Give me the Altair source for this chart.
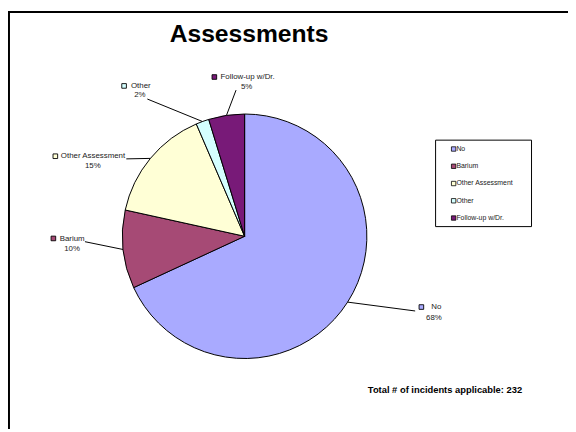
import altair as alt
import pandas as pd
import numpy as np

# ---- data ----
categories = ["No", "Barium", "Other Assessment", "Other", "Follow-up w/Dr."]
counts = [158, 24, 35, 4, 11]
colors = ["#A9AAFF", "#A64A75", "#FFFFD6", "#D4FFFF", "#781A78"]
title_text = "Assessments"
note_text = "Total # of incidents applicable: 232"

# ---- layout ----
W, H = 568, 424
CX, CY, R = 240, 228.5, 124
FONT = "Liberation Sans"

# per-label placement: leader end offset from slice edge, then name / pct / square offsets from leader end
LAYOUT = {
    "No":               dict(ldx=68.5, ldy=9.0,   ndx=21.5, ndy=-4.3,  pdx=19.0, pdy=7.0,  sdx=6.3,   sdy=-4.0),
    "Barium":           dict(ldx=-38.7, ldy=-7.9, ndx=-13.0, ndy=-3.0, pdx=-13.0, pdy=7.0, sdx=-32.0, sdy=-3.3),
    "Other Assessment": dict(ldx=-24.4, ldy=0.5,  ndx=-33.8, ndy=-3.0, pdx=-34.0, pdy=7.0, sdx=-72.0, sdy=-2.7),
    "Other":            dict(ldx=-55.9, ldy=-22.8, ndx=-6.6, ndy=-13.3, pdx=-7.6, pdy=-4.0, sdx=-23.6, sdy=-13.3),
    "Follow-up w/Dr.":  dict(ldx=9.7, ldy=-25.6,  ndx=11.7, ndy=-13.3, pdx=10.7, pdy=-3.3, sdx=-22.0, sdy=-13.3),
}

total = sum(counts)
frac = np.array(counts, dtype=float) / total
mid = np.cumsum(frac) - frac / 2
ang = mid * 2 * np.pi

df = pd.DataFrame({
    "category": categories,
    "count": counts,
    "idx": list(range(len(categories))),
})
df["pct_label"] = [f"{round(f * 100)}%" for f in frac]
df["ex"] = CX + R * np.sin(ang)
df["ey"] = CY - R * np.cos(ang)
df["lx"] = df["ex"] + [LAYOUT[c]["ldx"] for c in categories]
df["ly"] = df["ey"] + [LAYOUT[c]["ldy"] for c in categories]
df["nx"] = df["lx"] + [LAYOUT[c]["ndx"] for c in categories]
df["ny"] = df["ly"] + [LAYOUT[c]["ndy"] for c in categories]
df["px"] = df["lx"] + [LAYOUT[c]["pdx"] for c in categories]
df["py"] = df["ly"] + [LAYOUT[c]["pdy"] for c in categories]
df["sx"] = df["lx"] + [LAYOUT[c]["sdx"] for c in categories]
df["sy"] = df["ly"] + [LAYOUT[c]["sdy"] for c in categories]
df["legy"] = 140 + df["idx"] * 17.5

xs = alt.Scale(domain=[0, W], range=[0, W], nice=False, zero=False)
ys = alt.Scale(domain=[0, H], range=[0, H], nice=False, zero=False)
cscale = alt.Scale(domain=categories, range=colors)

base = alt.Chart(df)
one = alt.Chart(pd.DataFrame({"a": [0]}))

frame_left = one.mark_rule(color="black", strokeWidth=2).encode(
    x=alt.value(1), y=alt.value(0), y2=alt.value(H))
frame_top = one.mark_rule(color="black", strokeWidth=2).encode(
    x=alt.value(0), x2=alt.value(W), y=alt.value(1))

pie = base.mark_arc(outerRadius=R, stroke="black", strokeWidth=1).encode(
    theta=alt.Theta("count:Q", stack=True),
    color=alt.Color("category:N", scale=cscale, legend=None),
    order=alt.Order("idx:Q", sort="ascending"),
    x=alt.value(CX), y=alt.value(CY),
)

leaders = base.mark_rule(color="black", strokeWidth=1).encode(
    x=alt.X("ex:Q", scale=xs, axis=None),
    y=alt.Y("ey:Q", scale=ys, axis=None),
    x2="lx:Q", y2="ly:Q",
)

squares = base.mark_point(shape="square", filled=True, size=22, stroke="black",
                          strokeWidth=0.9, opacity=1).encode(
    x=alt.X("sx:Q", scale=xs, axis=None),
    y=alt.Y("sy:Q", scale=ys, axis=None),
    fill=alt.Fill("category:N", scale=cscale, legend=None),
)

names = base.mark_text(font=FONT, fontSize=8, align="center", baseline="middle", color="#222222").encode(
    x=alt.X("nx:Q", scale=xs, axis=None),
    y=alt.Y("ny:Q", scale=ys, axis=None),
    text="category:N",
)
pcts = base.mark_text(font=FONT, fontSize=8, align="center", baseline="middle", color="#222222").encode(
    x=alt.X("px:Q", scale=xs, axis=None),
    y=alt.Y("py:Q", scale=ys, axis=None),
    text="pct_label:N",
)

legend_box = one.mark_rect(fill="white", stroke="black", strokeWidth=1).encode(
    x=alt.value(433.7), x2=alt.value(531), y=alt.value(131), y2=alt.value(218.7))
legend_sq = base.mark_point(shape="square", filled=True, size=20, stroke="black",
                            strokeWidth=0.8, opacity=1).encode(
    x=alt.value(452),
    y=alt.Y("legy:Q", scale=ys, axis=None),
    fill=alt.Fill("category:N", scale=cscale, legend=None),
)
legend_txt = base.mark_text(font=FONT, fontSize=7, align="left", baseline="middle", color="#222222").encode(
    x=alt.value(454.8),
    y=alt.Y("legy:Q", scale=ys, axis=None),
    text="category:N",
)

title = one.mark_text(font=FONT, fontSize=25, fontWeight="bold", align="center",
                      baseline="alphabetic", color="black").encode(
    x=alt.value(244.5), y=alt.value(31), text=alt.value(title_text))
note = one.mark_text(font=FONT, fontSize=9.5, fontWeight="bold", align="left",
                     baseline="middle", color="black").encode(
    x=alt.value(365), y=alt.value(384), text=alt.value(note_text))

chart = alt.layer(
    frame_left, frame_top, pie, leaders, squares, names, pcts,
    legend_box, legend_sq, legend_txt, title, note,
).properties(
    width=W, height=H, padding=0,
    autosize=alt.AutoSizeParams(type="none"),
).configure_view(stroke=None)

chart.save("out.html", embed_options={"renderer": "svg", "actions": False})
